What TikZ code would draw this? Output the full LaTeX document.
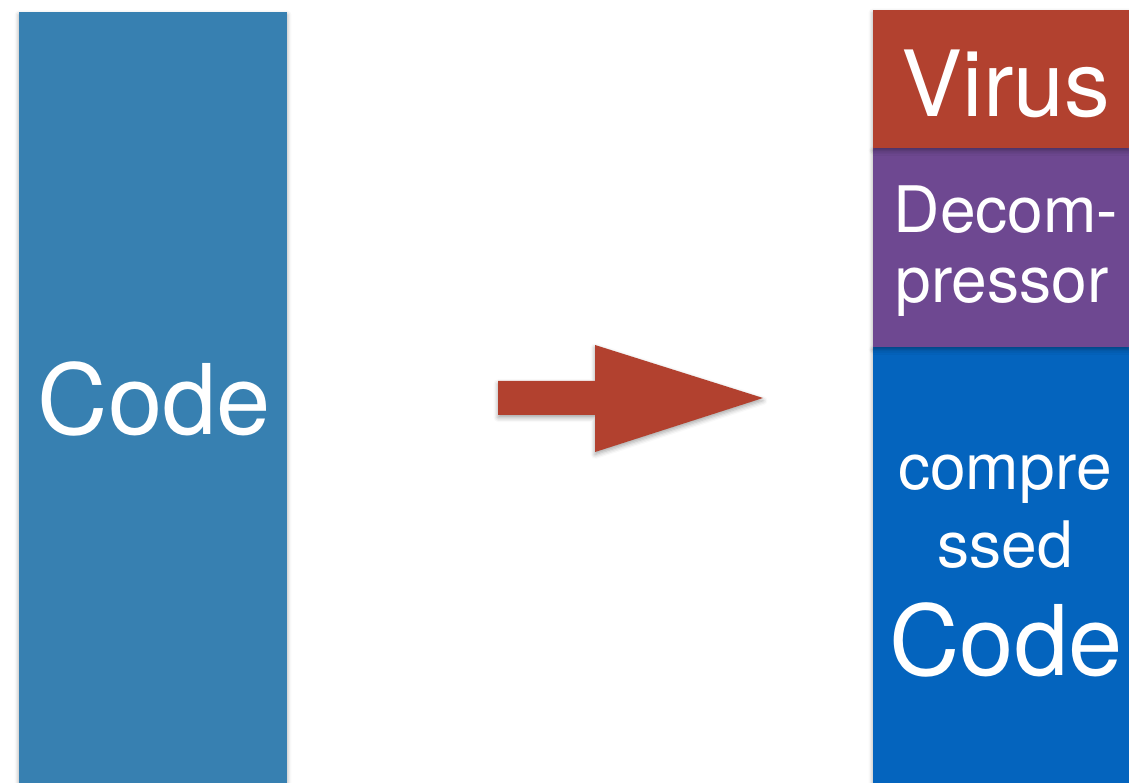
\documentclass[tikz,border=0pt]{standalone}
\usepackage{fontspec}
\setmainfont{TeX Gyre Heros}
\usetikzlibrary{shadows.blur}
\definecolor{codeblue}{HTML}{3780B1}
\definecolor{virusred}{HTML}{B2412F}
\definecolor{decomppurple}{HTML}{6E4891}
\definecolor{packedblue}{HTML}{0464BE}
\tikzset{
  block/.style={rectangle, inner sep=0pt, outer sep=0pt, draw=none,
    blur shadow={shadow xshift=0pt, shadow yshift=-1.5pt,
      shadow blur radius=2.5pt, shadow opacity=35}},
  bigtext/.style={anchor=base, text=white, inner sep=0pt,
    font=\fontsize{55.5}{55.5}\selectfont},
  midtext/.style={anchor=base, text=white, inner sep=0pt,
    font=\fontsize{36.5}{36.5}\selectfont}
}
\begin{document}
\begin{tikzpicture}[x=0.02cm, y=-0.02cm]
  \useasboundingbox (0,0) rectangle (1129,783);
  % original program
  \node[block, fill=codeblue, minimum width=5.36cm, minimum height=15.42cm] (code) at (153,397.5) {};
  \node[bigtext] (codelabel) at (154.5,435) {Code};
  % infected program, bottom to top
  \node[block, fill=packedblue, minimum width=5.12cm, minimum height=8.72cm] (packed) at (1001,565) {};
  \node[block, fill=decomppurple, minimum width=5.12cm, minimum height=3.98cm] (decomp) at (1001,247.5) {};
  \node[block, fill=virusred, minimum width=5.12cm, minimum height=2.76cm] (virus) at (1001,79) {};
  \node[bigtext, font=\fontsize{52}{52}\selectfont] (viruslabel) at (1006,117) {Virus};
  \node[midtext] (decomtop) at (1006,233) {Decom-};
  \node[midtext] (decombot) at (1002,303) {pressor};
  \node[midtext] (packtop) at (1005,490) {compre};
  \node[midtext] (packmid) at (1005,567) {ssed};
  \node[bigtext] (packbot) at (1006,675) {Code};
  % block arrow
  \path[fill=virusred, blur shadow={shadow xshift=0pt, shadow yshift=-1.5pt,
      shadow blur radius=2.5pt, shadow opacity=35}]
    (498,381) -- (595,381) -- (595,345) -- (763,398) -- (595,452)
    -- (595,415) -- (498,415) -- cycle;
\end{tikzpicture}
\end{document}
